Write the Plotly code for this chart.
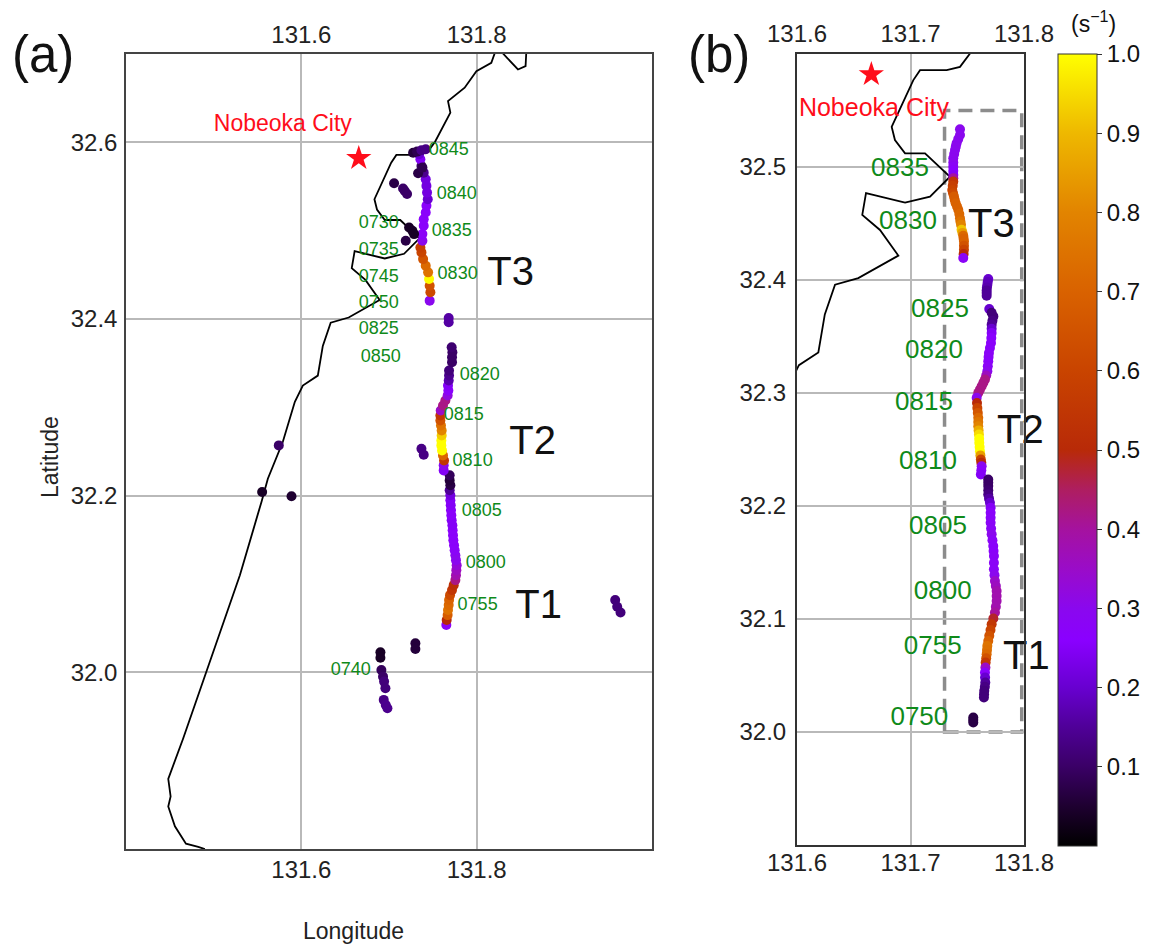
import plotly.graph_objects as go

# Coastline (longitude, latitude)
coast_lon = [131.857,131.8566,131.8558,131.8471,131.83,131.826,131.822,131.8205,131.8167,131.7997,131.7863,131.7673,131.77,131.7524,131.7436,131.7319,131.7084,131.7025,131.6834,131.6863,131.6952,131.7128,131.7348,131.7172,131.6952,131.6608,131.6575,131.6731,131.6893,131.654,131.6335,131.6245,131.6188,131.6017,131.5926,131.5789,131.5618,131.5546,131.5299,131.4653,131.4482,131.4509,131.4482,131.4558,131.4684,131.4824,131.49]
coast_lat = [32.71,32.7006,32.6862,32.6825,32.7006,32.71,32.71,32.7006,32.69,32.6806,32.6618,32.6467,32.6336,32.6004,32.5886,32.5857,32.5857,32.5769,32.5356,32.5239,32.5121,32.5121,32.4914,32.4738,32.4685,32.4768,32.4576,32.4443,32.4216,32.4017,32.3958,32.3695,32.3359,32.3246,32.3062,32.261,32.2192,32.1932,32.1099,31.9254,31.8794,31.8595,31.8482,31.8257,31.806,31.8023,31.80]

# Panel (a) tracks
a_lon = [
 131.7654,131.7658,131.7669,131.7673,131.7681,131.7685,131.7696,131.7719,131.7738,131.7757,131.7764,131.7768,131.7772,131.7764,131.7757,131.7749,131.7742,131.7734,131.773,131.7726,131.7723,131.7715,131.7711,131.7707,131.7704,131.77,131.77,131.7692,
 131.77,131.7692,131.7692,
 131.7624,131.7624,131.7628,131.7616,131.7605,131.7597,131.7597,131.7601,131.7601,131.7593,131.7586,131.7586,131.759,131.7616,131.7643,131.7669,131.7677,131.7673,131.7681,131.7685,131.7685,
 131.7719,131.7719,131.7723,131.7715,
 131.7464,131.7472,131.7464,131.7457,131.7446,131.7419,131.7389,131.737,131.7358,131.7381,131.7381,131.7396,131.7396,131.7419,131.7427,131.7442,131.7434,131.7427,131.7419,131.7396,131.737,131.7358,131.7343,
 131.7275,131.732,131.737,131.7419,131.7332,131.7381,
 131.7058,131.716,131.718,131.7206,131.7229,131.7267,131.7286,131.7191,
 131.7681,131.7681,131.737,131.7396,131.5743,131.5553,131.5888,
 131.958,131.9603,131.9641,131.7301,131.7301,131.6902,131.6902,
 131.6913,131.6932,131.6944,131.6959,131.694,131.6963,131.6982]
a_lat = [
 32.0535,32.0592,32.0648,32.0705,32.0761,32.0818,32.0874,32.0931,32.0987,32.1044,32.11,32.1157,32.1213,32.127,32.1326,32.1383,32.1439,32.1496,32.1552,32.1609,32.1665,32.1722,32.1778,32.1835,32.1891,32.1948,32.2004,32.2061,
 32.2117,32.2173,32.223,
 32.2286,32.2343,32.2399,32.2456,32.2512,32.2569,32.2625,32.2682,32.2738,32.2795,32.2851,32.2908,32.2964,32.3021,32.3077,32.3134,32.319,32.3247,32.3303,32.336,32.3416,
 32.351,32.3567,32.3623,32.368,
 32.4208,32.4302,32.4377,32.4452,32.4528,32.4603,32.4678,32.4754,32.481,32.4885,32.4961,32.5055,32.513,32.5205,32.5281,32.5356,32.5431,32.5507,32.5582,32.5657,32.5733,32.5808,32.5865,
 32.5883,32.5895,32.591,32.5921,32.565,32.5714,
 32.5537,32.5477,32.545,32.5416,32.5036,32.4998,32.4961,32.4885,
 32.4012,32.3963,32.2531,32.2463,32.2569,32.2042,32.1993,
 32.0818,32.0742,32.0678,32.0328,32.0264,32.0226,32.0166,
 32.0027,31.9951,31.9895,31.982,31.9688,31.9631,31.9594]
a_val = [
 .28,.5,.68,.75,.72,.7,.62,.55,.52,.42,.38,.36,.33,.3,.3,.28,.27,.27,.27,.27,.25,.25,.27,.27,.25,.25,.22,.15,
 .07,.06,.09,
 .25,.3,.55,.72,1,1,1,.93,.8,.75,.65,.55,.35,.42,.42,.32,.27,.25,.17,.14,.12,
 .1,.1,.1,.11,
 .3,.62,.65,1.0,.75,.72,.65,.6,.58,.3,.28,.27,.27,.27,.27,.2,.22,.22,.22,.14,.1,.25,.2,
 .06,.08,.13,.13,.07,.08,
 .07,.1,.1,.1,.04,.04,.04,.07,
 .16,.16,.13,.13,.1,.04,.05,
 .12,.12,.12,.06,.06,.04,.04,
 .09,.1,.12,.12,.13,.14,.14]

# Panel (b) tracks
b_lon = [
 131.7436,131.7436,131.7421,131.7406,131.7399,131.7392,131.7385,131.7377,131.7377,131.7377,131.7377,131.7377,131.7377,131.7377,131.7372,131.7368,131.7375,131.7383,131.739,131.7398,131.741,131.7421,131.743,131.7436,131.744,131.7445,131.745,131.7458,131.7465,131.7468,131.7471,131.7471,131.7471,131.7468,131.7465,
 131.7685,131.768,131.7677,131.7673,131.7671,131.7671,131.7671,
 131.7694,131.7715,131.773,131.7722,131.7715,131.7715,131.7715,131.7712,131.7709,131.77,131.7691,131.7688,131.7685,131.7681,131.7677,131.7667,131.7656,131.7642,131.7627,131.7612,131.7597,131.7583,
 131.7586,131.7589,131.7593,131.7597,131.7597,131.7597,131.76,131.7603,131.7605,131.7606,131.7609,131.7612,131.7616,131.762,131.7624,131.7627,131.7624,131.762,
 131.7685,131.7685,131.7685,131.7685,131.7685,131.7692,131.77,
 131.7706,131.7706,131.7706,131.7706,131.771,131.7715,131.7722,131.7729,131.7732,131.7735,131.7735,131.7735,131.774,131.7744,131.7752,131.7759,131.7759,131.7759,131.7752,131.7744,131.773,131.7715,131.7705,131.7694,131.7685,131.7677,131.7674,131.7671,131.7667,131.7662,131.766,131.7656,131.7657,131.7659,131.7655,131.765,131.7648,131.7647,
 131.7553,131.7553,131.7553]
b_lat = [
 32.5333,32.5283,32.5247,32.521,32.518,32.5151,32.5114,32.5077,32.504,32.5003,32.4966,32.493,32.49,32.4871,32.4834,32.4797,32.4768,32.4738,32.4708,32.4679,32.465,32.4621,32.4584,32.4547,32.4518,32.4488,32.4444,32.4417,32.4391,32.4366,32.4341,32.4304,32.4267,32.423,32.4194,
 32.4008,32.3983,32.3958,32.3933,32.3908,32.3885,32.3861,
 32.3743,32.371,32.3678,32.364,32.3605,32.3568,32.3531,32.3487,32.3443,32.3398,32.3354,32.3318,32.3281,32.3236,32.3192,32.3155,32.3119,32.309,32.306,32.303,32.3001,32.2957,
 32.2912,32.2868,32.2824,32.278,32.2743,32.2706,32.2669,32.2632,32.2595,32.2559,32.2522,32.2485,32.2448,32.2411,32.2382,32.2352,32.2316,32.2279,
 32.2235,32.2205,32.2176,32.2139,32.2102,32.2065,32.2029,
 32.1985,32.194,32.1896,32.1852,32.18,32.1749,32.1697,32.1646,32.1602,32.1557,32.1498,32.144,32.1388,32.1336,32.1292,32.1248,32.1204,32.116,32.1108,32.1057,32.1005,32.0954,32.0902,32.0851,32.0806,32.0762,32.0725,32.0689,32.0652,32.0615,32.0571,32.0527,32.0482,32.0438,32.04,32.0365,32.0335,32.0306,
 32.0129,32.0107,32.0085]
b_val = [
 .3,.3,.3,.3,.3,.3,.3,.3,.3,.28,.26,.25,.4,.55,.58,.6,.62,.68,.68,.7,.7,.7,.72,.72,.75,.8,.92,.85,.72,.7,.7,.65,.6,.5,.28,
 .2,.18,.18,.17,.15,.15,.15,
 .2,.12,.12,.13,.15,.2,.25,.26,.27,.27,.28,.28,.27,.28,.3,.36,.42,.42,.42,.42,.42,.3,
 .5,.6,.66,.72,.76,.8,.88,.95,1,1,1,1,.85,.6,.5,.3,.27,.25,
 .1,.1,.1,.11,.13,.16,.2,
 .25,.27,.27,.28,.28,.3,.28,.27,.27,.28,.28,.28,.3,.35,.36,.38,.38,.38,.38,.4,.48,.55,.6,.65,.7,.75,.74,.72,.65,.55,.35,.27,.2,.15,.13,.12,.12,.12,
 .07,.07,.07]

# Time labels
a_time = ["0845","0840","0835","0830","0820","0815","0810","0805","0800","0755","0740","0730","0735","0745","0750","0825","0850"]
a_time_lon = [131.7681,131.7772,131.7715,131.7783,131.8034,131.7852,131.7954,131.8057,131.8103,131.8011,131.6564,131.6883,131.6883,131.6883,131.6883,131.6883,131.6906]
a_time_lat = [32.5912,32.5404,32.4986,32.45,32.3359,32.2907,32.2387,32.1822,32.1234,32.076,32.0025,32.5076,32.4771,32.4466,32.4172,32.3878,32.3562]
b_time = ["0835","0830","0825","0820","0815","0810","0805","0800","0755","0750"]
b_time_lon = [131.6907,131.6978,131.726,131.7207,131.7119,131.7154,131.7242,131.7284,131.7196,131.7078]
b_time_lat = [32.498,32.4512,32.3726,32.3363,32.2904,32.2383,32.1811,32.1237,32.0751,32.0119]

transect = ["T1","T2","T3"]
a_t_lon = [131.8707,131.8638,131.8387]
a_t_lat = [32.0723,32.2588,32.4497]
b_t_lon = [131.7815,131.7762,131.7507]
b_t_lat = [32.0645,32.2649,32.4469]

city = "Nobeoka City"
star_lon = [131.6655]
star_lat = [32.582]
a_city_lon, a_city_lat = [131.5789], [32.619]
b_city_lon, b_city_lat = [131.6678], [32.551]

box_lon = [131.73,131.798]
box_lat = [32.0,32.55]

cbar_ticks = [.1,.2,.3,.4,.5,.6,.7,.8,.9,1.0]
lon_ticks_a = [131.6,131.8]
lon_ticks_b = [131.6,131.7,131.8]
lat_ticks_a = [32.0,32.2,32.4,32.6]
lat_ticks_b = [32.0,32.1,32.2,32.3,32.4,32.5]

W, H = 1150, 945
FONT = "Liberation Sans"
colorscale = [[0,"#000000"],[.05,"#1e0030"],[.1,"#3a0066"],[.15,"#4f0098"],[.2,"#6800d0"],[.26,"#8a00ff"],[.3,"#8a08ee"],
              [.35,"#9a0cc8"],[.4,"#a5129f"],[.45,"#ae1e60"],[.5,"#b82a08"],[.6,"#c94400"],[.7,"#d96200"],[.8,"#e28400"],
              [.9,"#eeb800"],[1,"#ffff00"]]
GREEN = "#0f8a1a"

fig = go.Figure()

def panel(xa, ya, lon, lat, val, size, tl, tlon, tlat, tsize, tx, ty, tpos, cx, cy, csize, showbar):
    fig.add_trace(go.Scatter(x=coast_lon, y=coast_lat, mode="lines", xaxis=xa, yaxis=ya,
                             line=dict(color="black", width=1.8), showlegend=False, hoverinfo="skip"))
    mk = dict(size=size, color=val, colorscale=colorscale, cmin=0, cmax=1, line=dict(width=0))
    if showbar:
        mk.update(showscale=True, colorbar=dict(
            x=1058/W, xanchor="left", xpad=0, y=1-54/H, yanchor="top", ypad=0,
            lenmode="pixels", len=792, thicknessmode="pixels", thickness=39,
            tickvals=cbar_ticks, ticktext=["%.1f" % v for v in cbar_ticks], ticks="outside", ticklen=5,
            tickcolor="#333", tickfont=dict(family=FONT, size=24, color="#111"), outlinecolor="#333", outlinewidth=1))
    fig.add_trace(go.Scatter(x=lon, y=lat, mode="markers", xaxis=xa, yaxis=ya, marker=mk, showlegend=False))
    fig.add_trace(go.Scatter(x=tlon, y=tlat, text=tl, mode="text", xaxis=xa, yaxis=ya, cliponaxis=False,
                             textfont=dict(family=FONT, size=tsize, color=GREEN), showlegend=False, hoverinfo="skip"))
    fig.add_trace(go.Scatter(x=tx, y=ty, text=transect, mode="text", textposition=tpos, xaxis=xa, yaxis=ya, cliponaxis=False,
                             textfont=dict(family=FONT, size=40, color="#111"), showlegend=False, hoverinfo="skip"))
    fig.add_trace(go.Scatter(x=star_lon, y=star_lat, mode="markers", xaxis=xa, yaxis=ya,
                             marker=dict(symbol="star", size=19, color="#ff0d1a", line=dict(width=0)),
                             showlegend=False, hoverinfo="skip"))
    fig.add_trace(go.Scatter(x=cx, y=cy, text=[city], mode="text", xaxis=xa, yaxis=ya, cliponaxis=False,
                             textfont=dict(family=FONT, size=csize, color="#ff0d1a"), showlegend=False, hoverinfo="skip"))

panel("x", "y", a_lon, a_lat, a_val, 10, a_time, a_time_lon, a_time_lat, 18, a_t_lon, a_t_lat, "middle center", a_city_lon, a_city_lat, 23, True)
panel("x2", "y2", b_lon, b_lat, b_val, 10, b_time, b_time_lon, b_time_lat, 26, b_t_lon, b_t_lat, "middle right", b_city_lon, b_city_lat, 25, False)
# Top axes need a trace to be drawn
fig.add_trace(go.Scatter(x=[None], y=[None], xaxis="x3", yaxis="y", showlegend=False, hoverinfo="skip"))
fig.add_trace(go.Scatter(x=[None], y=[None], xaxis="x4", yaxis="y2", showlegend=False, hoverinfo="skip"))

tick = dict(family=FONT, size=24, color="#222")
common = dict(showgrid=True, gridcolor="#b9b9b9", gridwidth=1.5, zeroline=False, showline=True, mirror=True,
              ticks="outside", tickcolor="rgba(0,0,0,0)", tickfont=tick, tickformat=".1f")
top = dict(showgrid=False, zeroline=False, ticks="outside", ticklen=0, tickcolor="rgba(0,0,0,0)", tickfont=tick, tickformat=".1f")
a_dom_x = [126/W, 652/W]
a_dom_y = [1-849/H, 1-54/H]
b_dom_x = [797/W, 1024/W]
b_dom_y = [1-845/H, 1-54/H]

fig.update_layout(
    width=W, height=H, autosize=False, margin=dict(l=0, r=0, t=0, b=0, autoexpand=False),
    paper_bgcolor="white", plot_bgcolor="white", showlegend=False,
    font=dict(family=FONT),
    xaxis=dict(common, domain=a_dom_x, range=[131.4,132.0], tickvals=lon_ticks_a, anchor="y", linecolor="#444", linewidth=1.5,
               ticklen=0, ticklabelstandoff=-2),
    yaxis=dict(common, domain=a_dom_y, range=[31.8,32.7], tickvals=lat_ticks_a, anchor="x", linecolor="#444", linewidth=1.5, ticklen=2),
    xaxis2=dict(common, domain=b_dom_x, range=[131.6,131.8], tickvals=lon_ticks_b, anchor="y2", linecolor="#333", linewidth=2,
                ticklen=0, ticklabelstandoff=-5),
    yaxis2=dict(common, domain=b_dom_y, range=[31.9,32.6], tickvals=lat_ticks_b, anchor="x2", linecolor="#333", linewidth=2, ticklen=4),
    xaxis3=dict(top, overlaying="x", side="top", anchor="y", range=[131.4,132.0], tickvals=lon_ticks_a),
    xaxis4=dict(top, overlaying="x2", side="top", anchor="y2", range=[131.6,131.8], tickvals=lon_ticks_b, ticklabelstandoff=1),
    shapes=[dict(type="rect", xref="x2", yref="y2", x0=box_lon[0], x1=box_lon[1], y0=box_lat[0], y1=box_lat[1],
                 line=dict(color="#8c8c8c", width=3.5, dash="14px,8px"), fillcolor="rgba(0,0,0,0)", layer="below")],
    annotations=[
        dict(text="(a)", xref="paper", yref="paper", x=43/W, y=1-54/H, xanchor="center", yanchor="middle", showarrow=False, font=dict(family=FONT, size=51, color="#111")),
        dict(text="(b)", xref="paper", yref="paper", x=719/W, y=1-54/H, xanchor="center", yanchor="middle", showarrow=False, font=dict(family=FONT, size=51, color="#111")),
        dict(text="(s<sup>\u22121</sup>)", xref="paper", yref="paper", x=1093/W, y=1-22/H, xanchor="center", yanchor="middle", showarrow=False, font=dict(family=FONT, size=23, color="#111")),
        dict(text="Longitude", xref="paper", yref="paper", x=353/W, y=1-931/H, xanchor="center", yanchor="middle", showarrow=False, font=dict(family=FONT, size=23, color="#222")),
        dict(text="Latitude", xref="paper", yref="paper", x=50/W, y=1-457/H, xanchor="center", yanchor="middle", textangle=-90, showarrow=False, font=dict(family=FONT, size=23, color="#222")),
    ],
)

fig.write_html("out.html", config=dict(displayModeBar=False), post_script="document.body.style.margin='0';")
